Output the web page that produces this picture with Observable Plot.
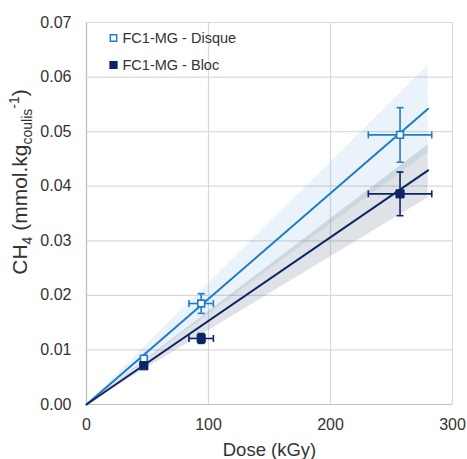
<!DOCTYPE html>
<html>
<head>
<meta charset="utf-8">
<script src="https://cdn.jsdelivr.net/npm/d3@7"></script>
<script src="https://cdn.jsdelivr.net/npm/@observablehq/plot@0.6"></script>
<style>
  html, body { margin: 0; padding: 0; background: #fff; }
  #chart { width: 467px; height: 459px; }
</style>
</head>
<body>
<div id="chart"></div>
<script>
// ---- data ----
const doses = [47, 94, 257];
const doseErr = [2, 10, 26];
const disqueY = [0.0084, 0.0185, 0.0494];
const disqueErr = [0.0005, 0.0018, 0.0050];
const blocY = [0.0071, 0.0121, 0.0386];
const blocErr = [0.0004, 0.0009, 0.0040];

const fitDose = [0, 280];
const disqueFit = [0, 0.0542];
const disqueLo = [0, 0.0462];
const disqueHi = [0, 0.0621];
const blocFit = [0, 0.0429];
const blocLo = [0, 0.0379];
const blocHi = [0, 0.0476];

const xTicks = [0, 100, 200, 300];
const yTicks = [0, 0.01, 0.02, 0.03, 0.04, 0.05, 0.06, 0.07];
const seriesNames = ["FC1-MG - Disque", "FC1-MG - Bloc"];

const cDisque = "#1f7dc8";
const cBloc = "#0b2565";
const textColor = "#333333";
const font = "'Liberation Sans', Arial, sans-serif";

// ---- tables ----
const pts = (ys, es) => doses.map((d, i) => ({x: d, xe: doseErr[i], y: ys[i], ye: es[i]}));
const disquePts = pts(disqueY, disqueErr);
const blocPts = pts(blocY, blocErr);
const fitRows = (f, lo, hi) => fitDose.map((d, i) => ({x: d, y: f[i], lo: lo[i], hi: hi[i]}));
const disqueRows = fitRows(disqueFit, disqueLo, disqueHi);
const blocRows = fitRows(blocFit, blocLo, blocHi);

const hCap = {draw(c) { c.moveTo(-3.5, 0); c.lineTo(3.5, 0); }};
const vCap = {draw(c) { c.moveTo(0, -3.5); c.lineTo(0, 3.5); }};

function errMarks(data, color) {
  return [
    Plot.ruleX(data, {x: "x", y1: d => d.y - d.ye, y2: d => d.y + d.ye, stroke: color, strokeWidth: 1.6}),
    Plot.ruleY(data, {y: "y", x1: d => d.x - d.xe, x2: d => d.x + d.xe, stroke: color, strokeWidth: 1.6}),
    Plot.dot(data, {x: "x", y: d => d.y - d.ye, symbol: hCap, stroke: color, strokeWidth: 1.6, r: 4}),
    Plot.dot(data, {x: "x", y: d => d.y + d.ye, symbol: hCap, stroke: color, strokeWidth: 1.6, r: 4}),
    Plot.dot(data, {x: d => d.x - d.xe, y: "y", symbol: vCap, stroke: color, strokeWidth: 1.6, r: 4}),
    Plot.dot(data, {x: d => d.x + d.xe, y: "y", symbol: vCap, stroke: color, strokeWidth: 1.6, r: 4})
  ];
}

const plot = Plot.plot({
  width: 467,
  height: 459,
  marginLeft: 86,
  marginRight: 15,
  marginTop: 22,
  marginBottom: 55,
  style: {fontFamily: font, fontSize: "16px", color: textColor, background: "#fff"},
  x: {domain: [0, 300], ticks: xTicks, tickSize: 0, tickPadding: 14, label: null},
  y: {domain: [0, 0.07], ticks: yTicks, tickSize: 0, tickPadding: 15, tickFormat: d3.format(".2f"), label: null},
  marks: [
    Plot.ruleX(xTicks, {stroke: "#d9d9d9", strokeWidth: 1.2}),
    Plot.ruleY(yTicks, {stroke: "#d9d9d9", strokeWidth: 1.2}),
    Plot.ruleX([0], {stroke: "#bfbfbf", strokeWidth: 1.2}),
    Plot.ruleY([0], {stroke: "#bfbfbf", strokeWidth: 1.2}),
    Plot.areaY(disqueRows, {x: "x", y1: "lo", y2: "hi", fill: "#5b9bd5", fillOpacity: 0.13}),
    Plot.areaY(blocRows, {x: "x", y1: "lo", y2: "hi", fill: "#44546a", fillOpacity: 0.17}),
    Plot.line(disqueRows, {x: "x", y: "y", stroke: cDisque, strokeWidth: 2}),
    Plot.line(blocRows, {x: "x", y: "y", stroke: cBloc, strokeWidth: 2}),
    ...errMarks(disquePts, cDisque),
    ...errMarks(blocPts, cBloc),
    Plot.dot(disquePts, {x: "x", y: "y", symbol: "square", r: 3.8, fill: "#ffffff", stroke: cDisque, strokeWidth: 1.6}),
    Plot.dot(blocPts, {x: "x", y: "y", symbol: "square", r: 4.6, fill: cBloc, stroke: cBloc, strokeWidth: 1}),
    // legend
    Plot.dot([seriesNames[0]], {frameAnchor: "top-left", dx: 27, dy: 15.5, symbol: "square", r: 3.6, fill: "#fff", stroke: cDisque, strokeWidth: 1.4}),
    Plot.dot([seriesNames[1]], {frameAnchor: "top-left", dx: 27, dy: 42.5, symbol: "square", r: 3.8, fill: cBloc, stroke: cBloc}),
    Plot.text([seriesNames[0]], {frameAnchor: "top-left", lineAnchor: "middle", dx: 36, dy: 15.5, text: d => d, textAnchor: "start", fontSize: 14.5, fill: textColor}),
    Plot.text([seriesNames[1]], {frameAnchor: "top-left", lineAnchor: "middle", dx: 36, dy: 42.5, text: d => d, textAnchor: "start", fontSize: 14.5, fill: textColor}),
    // x axis title
    Plot.text(["Dose (kGy)"], {frameAnchor: "bottom", lineAnchor: "middle", dy: 46, text: d => d, fontSize: 18.5, fill: textColor})
  ]
});

document.getElementById("chart").appendChild(plot);

// y axis title with subscript / superscript
const svg = d3.select(plot);
const t = svg.append("text")
  .attr("transform", "translate(27,182) rotate(-90)")
  .attr("text-anchor", "middle")
  .attr("fill", textColor)
  .attr("font-size", 21)
  .attr("font-family", font);
t.append("tspan").text("CH");
t.append("tspan").attr("font-size", 14).attr("dy", 5).text("4");
t.append("tspan").attr("dy", -5).text(" (mmol.kg");
t.append("tspan").attr("font-size", 14).attr("dy", 5).text("coulis");
t.append("tspan").attr("font-size", 14).attr("dy", -13).text("-1");
t.append("tspan").attr("dy", 8).text(")");
</script>
</body>
</html>
